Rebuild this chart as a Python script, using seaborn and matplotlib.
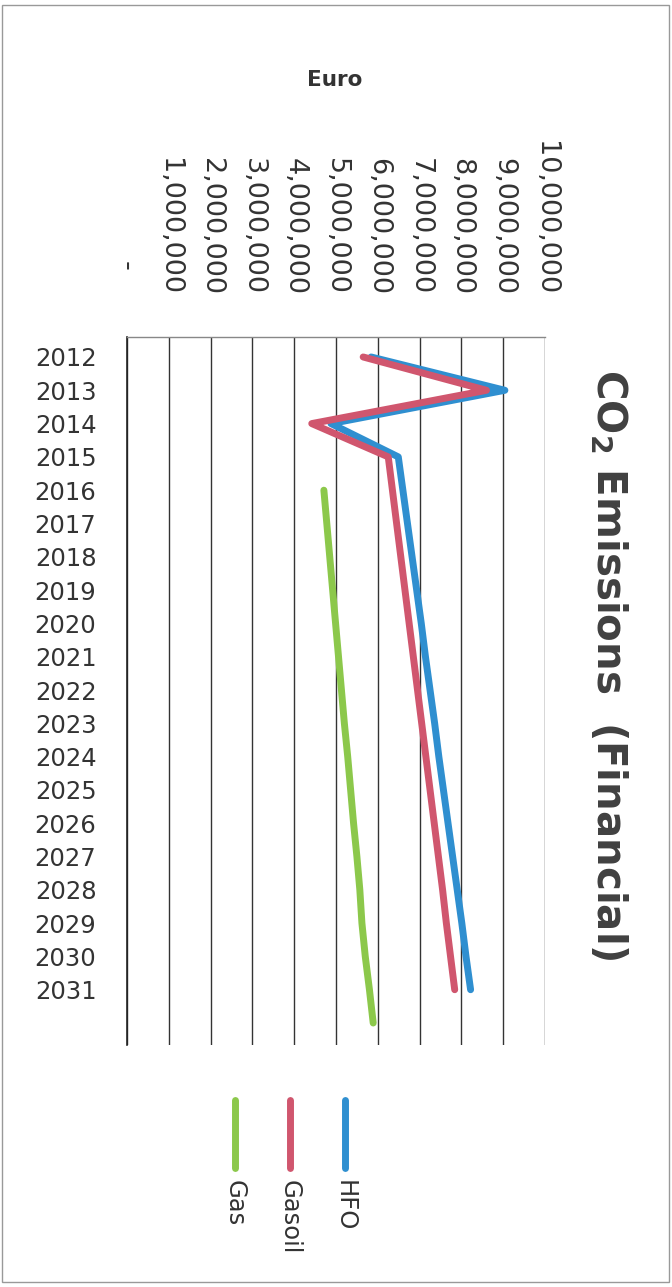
import numpy as np
import pandas as pd
import matplotlib
matplotlib.use("Agg")
import matplotlib.pyplot as plt
from matplotlib.lines import Line2D
from matplotlib.patches import Rectangle
import seaborn as sns

# Data (millions of Euro)
years = list(range(2012, 2032))
gas_years = list(range(2016, 2033))
hfo = [5.84, 9.04, 4.88, 6.49, 6.60, 6.71, 6.82, 6.93, 7.04, 7.14,
       7.25, 7.36, 7.46, 7.57, 7.68, 7.79, 7.90, 8.01, 8.11, 8.22]
gasoil = [5.65, 8.60, 4.42, 6.25, 6.35, 6.45, 6.55, 6.65, 6.75, 6.85,
          6.95, 7.05, 7.15, 7.25, 7.35, 7.45, 7.55, 7.64, 7.74, 7.84]
gas = [4.71, 4.78, 4.85, 4.92, 4.99, 5.06, 5.13, 5.20, 5.28, 5.35,
       5.42, 5.50, 5.57, 5.62, 5.70, 5.80, 5.89]
series_names = ["HFO", "Gasoil", "Gas"]
colors = ["#2f8fd0", "#d0566e", "#8cc84b"]
euro_ticks = list(range(0, 11))
euro_labels = ["-   "] + ["{:,}".format(v * 1000000) for v in euro_ticks[1:]]

df = pd.concat([
    pd.DataFrame({"year": years, "euro": np.array(hfo) * 1e6, "fuel": "HFO"}),
    pd.DataFrame({"year": years, "euro": np.array(gasoil) * 1e6, "fuel": "Gasoil"}),
    pd.DataFrame({"year": gas_years, "euro": np.array(gas) * 1e6, "fuel": "Gas"}),
])

sns.set_style("white")
plt.rcParams["font.family"] = ["DejaVu Sans"]

W, H = 672, 1287
fig = plt.figure(figsize=(W / 100, H / 100), dpi=100)
ax = fig.add_axes([127 / W, 1 - 1045 / H, (545 - 127) / W, (1045 - 337) / H])

sns.lineplot(data=df, x="euro", y="year", hue="fuel", hue_order=series_names,
             palette=colors, orient="y", estimator=None, sort=True,
             linewidth=5, solid_capstyle="round", legend=False, ax=ax)

ax.set_xlim(0, 10e6)
ax.set_ylim(2032.66, 2011.4)
ax.set_xlabel("")
ax.set_ylabel("")

# value axis on top, labels rotated
ax.set_xticks([v * 1e6 for v in euro_ticks])
ax.set_xticklabels(euro_labels)
ax.xaxis.tick_top()
ax.tick_params(axis="x", length=0, pad=30, labelsize=19.5, labelcolor="#333333",
               labelrotation=270)
for t in ax.get_xticklabels():
    t.set_va("bottom")
    t.set_ha("center")

ax.set_yticks(years)
ax.set_yticklabels([str(y) for y in years])
ax.tick_params(axis="y", length=0, pad=22, labelsize=17.5, labelcolor="#333333")

ax.grid(axis="x", color="#333333", linewidth=1)
ax.grid(axis="y", visible=False)
for side in ["bottom", "right"]:
    ax.spines[side].set_visible(False)
ax.spines["top"].set_color("#888888")
ax.spines["top"].set_linewidth(1)
ax.spines["left"].set_color("#222222")
ax.spines["left"].set_linewidth(1.2)

# axis name
fig.text(335 / W, 1 - 80 / H, "Euro", ha="center", va="center",
         fontsize=15.5, fontweight="bold", color="#333333")

# title
fig.text(608 / W, 1 - 665 / H, r"CO$_\mathbf{2}$ Emissions  (Financial)",
         rotation=270, ha="center", va="center", fontsize=29,
         fontweight="bold", color="#404040")

# legend drawn by hand
leg_x = [345, 290, 235]
for name, col, x in zip(series_names, colors, leg_x):
    fig.add_artist(Line2D([x / W, x / W], [1 - 1100 / H, 1 - 1168 / H],
                          transform=fig.transFigure, color=col, linewidth=5,
                          solid_capstyle="round"))
    fig.text(x / W, 1 - 1180 / H, name, rotation=270, ha="center", va="top",
             fontsize=17.5, color="#333333")

fig.add_artist(Rectangle((2 / W, 5 / H), (W - 5) / W, (H - 10) / H,
                         transform=fig.transFigure, fill=False,
                         edgecolor="#999999", linewidth=1))

fig.savefig("out.png", dpi=100)
